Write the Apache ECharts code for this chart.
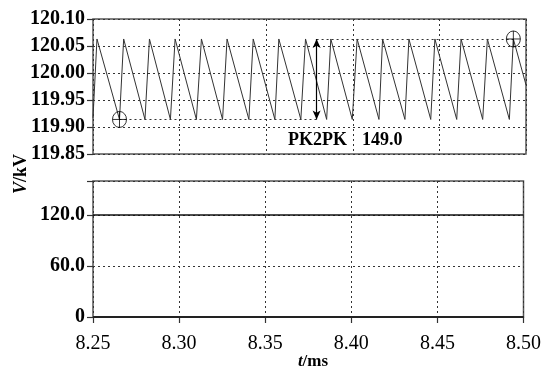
<!DOCTYPE html>
<html>
<head>
    <meta charset="UTF-8">
    <title>PK2PK voltage ripple</title>
</head>
<body style="margin: 0;overflow: hidden;background: #fff;">
<div id="chart" style="width: 544px;height: 370px"></div>

<script type="text/javascript" src="https://cdn.jsdelivr.net/npm/echarts@6/dist/echarts.min.js"></script>
<script type="text/javascript">
    // zoomed ripple trace (top panel), time in ms, voltage in kV
    var rippleTime = [8.2500, 8.2523, 8.2653, 8.2677, 8.2800, 8.2826, 8.2947, 8.2974, 8.3097,
        8.3126, 8.3248, 8.3274, 8.3400, 8.3425, 8.3550, 8.3573, 8.3700, 8.3727, 8.3849,
        8.3873, 8.3997, 8.4025, 8.4151, 8.4172, 8.4301, 8.4324, 8.4450, 8.4474, 8.4600,
        8.4625, 8.4750, 8.4777, 8.4904, 8.4927, 8.5000];
    var rippleVolt = [119.917, 120.063, 119.914, 120.063, 119.914, 120.063, 119.914, 120.063, 119.914,
        120.063, 119.914, 120.063, 119.914, 120.063, 119.914, 120.063, 119.914, 120.063, 119.914,
        120.063, 119.914, 120.063, 119.914, 120.063, 119.914, 120.063, 119.914, 120.063, 119.914,
        120.063, 119.914, 120.063, 119.914, 120.063, 119.978];

    // full-scale trace (bottom panel)
    var fullTime = [8.25, 8.50];
    var fullVolt = [120.0, 120.0];

    // cursors: marked trough, marked peak, position of the pk-pk arrow
    var cursorTime = [8.2653, 8.4927];
    var arrowTime = 8.3791;
    var pk2pk = 149.0;

    var xTicks = [8.25, 8.30, 8.35, 8.40, 8.45, 8.50];
    var topTicks = [119.85, 119.90, 119.95, 120.00, 120.05, 120.10];
    var bottomTicks = [0, 60, 120];

    var serif = '"Liberation Serif", "DejaVu Serif", serif';
    var troughV = Math.min.apply(null, rippleVolt);
    var peakV = Math.max.apply(null, rippleVolt);

    var ripple = rippleTime.map(function (t, i) { return [t, rippleVolt[i]]; });
    var full = fullTime.map(function (t, i) { return [t, fullVolt[i]]; });

    var dotted = {color: '#333', type: [2, 3], width: 1};
    var cursorSymbol = 'path://M0,-8A7,8 0 1,1 0,8A7,8 0 1,1 0,-8ZM-7,0L7,0M0,-8L0,8';

    var chart = echarts.init(document.getElementById('chart'));
    var option = {
        animation: false,
        backgroundColor: '#fff',
        grid: [
            {left: 93, top: 19, width: 433, height: 135, show: true, borderColor: '#555', borderWidth: 1.5, backgroundColor: '#fff'},
            {left: 93, top: 181, width: 433, height: 136, show: true, borderColor: '#555', borderWidth: 1.5, backgroundColor: '#fff'}
        ],
        xAxis: [
            {
                gridIndex: 0, type: 'value', min: xTicks[0], max: xTicks[xTicks.length - 1], interval: 0.05,
                axisLine: {show: false}, axisTick: {show: false}, axisLabel: {show: false},
                splitLine: {show: true, lineStyle: dotted}
            },
            {
                gridIndex: 1, type: 'value', min: xTicks[0], max: xTicks[xTicks.length - 1], interval: 0.05,
                offset: 5,
                axisLine: {show: false},
                axisTick: {show: true, length: 6, lineStyle: {color: '#333', width: 1.2}},
                axisLabel: {
                    margin: 12, color: '#000', fontFamily: serif, fontSize: 20,
                    formatter: function (v) { return v.toFixed(2); }
                },
                splitLine: {show: true, lineStyle: dotted}
            }
        ],
        yAxis: [
            {
                gridIndex: 0, type: 'value', min: topTicks[0], max: topTicks[topTicks.length - 1], interval: 0.05,
                axisLine: {show: false},
                axisTick: {show: true, length: 6, lineStyle: {color: '#333', width: 1.2}},
                axisLabel: {
                    margin: 8, color: '#000', fontFamily: serif, fontSize: 20, fontWeight: 'bold',
                    formatter: function (v) { return v.toFixed(2); }
                },
                splitLine: {show: true, lineStyle: dotted}
            },
            {
                gridIndex: 1, type: 'value', min: 0, max: 160, interval: 60,
                axisLine: {show: false},
                axisTick: {show: true, length: 6, lineStyle: {color: '#333', width: 1.2}},
                axisLabel: {
                    margin: 8, color: '#000', fontFamily: serif, fontSize: 20, fontWeight: 'bold',
                    formatter: function (v) {
                        if (bottomTicks.indexOf(v) < 0) return '';
                        return v === 0 ? '0' : v.toFixed(1);
                    }
                },
                splitLine: {show: true, lineStyle: dotted}
            }
        ],
        series: [
            {
                type: 'line', xAxisIndex: 0, yAxisIndex: 0, data: ripple,
                showSymbol: false, silent: true,
                lineStyle: {color: '#333', width: 1},
                markLine: {
                    silent: true, symbol: ['none', 'none'], label: {show: false},
                    lineStyle: {color: '#333', type: [2, 3], width: 1},
                    data: [
                        [{coord: [cursorTime[0], troughV]}, {coord: [arrowTime, troughV]}],
                        [{coord: [arrowTime, peakV]}, {coord: [cursorTime[1], peakV]}],
                        [
                            {coord: [arrowTime, peakV], symbol: 'arrow', symbolSize: [6, 9], lineStyle: {type: 'solid', color: '#000', width: 1.2}},
                            {coord: [arrowTime, troughV], symbol: 'arrow', symbolSize: [6, 9]}
                        ]
                    ]
                },
                markPoint: {
                    silent: true, symbol: cursorSymbol, symbolSize: [14, 16],
                    label: {show: false},
                    itemStyle: {color: 'none', borderColor: '#000', borderWidth: 0.8},
                    data: [
                        {coord: [cursorTime[0], troughV]},
                        {coord: [cursorTime[1], peakV]}
                    ]
                }
            },
            {
                type: 'line', xAxisIndex: 1, yAxisIndex: 1, data: full,
                showSymbol: false, silent: true,
                lineStyle: {color: '#111', width: 1.3}
            },
            {
                // zero line of the lower panel
                type: 'line', xAxisIndex: 1, yAxisIndex: 1,
                data: [[fullTime[0], 0], [fullTime[1], 0]],
                showSymbol: false, silent: true,
                lineStyle: {color: '#222', width: 2}
            }
        ],
        graphic: [
            {
                type: 'text', left: 288, top: 131,
                style: {text: 'PK2PK', font: 'bold 18px ' + serif, fill: '#000'}
            },
            {
                type: 'text', left: 362, top: 131,
                style: {text: pk2pk.toFixed(1), font: 'bold 18px ' + serif, fill: '#000'}
            },
            {
                type: 'text', x: 21, y: 174, rotation: Math.PI / 2,
                style: {
                    text: '{i|V}/kV', font: 'bold 18px ' + serif, fill: '#000',
                    align: 'center', verticalAlign: 'middle',
                    rich: {i: {fontStyle: 'italic', fontWeight: 'bold', fontSize: 18, fontFamily: serif}}
                }
            },
            {
                type: 'text', x: 313, y: 362,
                style: {
                    text: '{i|t}/ms', font: 'bold 17px ' + serif, fill: '#000',
                    align: 'center', verticalAlign: 'middle',
                    rich: {i: {fontStyle: 'italic', fontWeight: 'bold', fontSize: 17, fontFamily: serif}}
                }
            }
        ]
    };
    chart.setOption(option);
</script>
</body>
</html>
